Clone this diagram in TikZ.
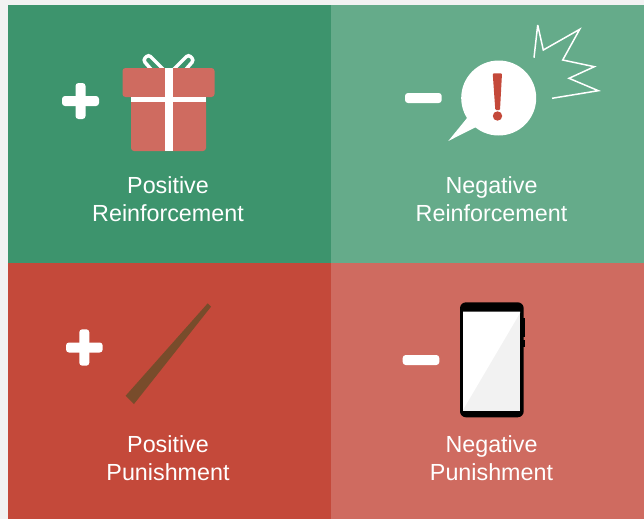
\documentclass[tikz,border=0pt]{standalone}
\usepackage{fontspec}
\setmainfont{Liberation Sans}
\definecolor{pagegrey}{HTML}{F2F2F2}
\definecolor{darkgreen}{HTML}{3D946D}
\definecolor{lightgreen}{HTML}{65AB8A}
\definecolor{darkred}{HTML}{C4493A}
\definecolor{lightred}{HTML}{CF6B60}
\definecolor{stickbrown}{HTML}{784C2B}
\tikzset{
    caption/.style={text=white,align=center,font=\fontsize{23.3}{28}\selectfont},
    signbar/.style={fill=white,rounded corners=3pt},
}
\begin{document}
\begin{tikzpicture}[x=1pt,y=-1pt]
            \useasboundingbox (0,0) rectangle (644,519);
            \fill [pagegrey] (0,0) rectangle (644,519);
            \fill [darkgreen] (8,5) rectangle (331,263);
            \fill [lightgreen] (331,5) rectangle (644,263);
            \fill [darkred] (8,263) rectangle (331,519);
            \fill [lightred] (331,263) rectangle (644,519);
            % gift
            \draw [white,line width=3.5pt,rounded corners=3pt] (168,74) -- (148.5,54.5) -- (143,60) -- (156,75);
            \draw [white,line width=3.5pt,rounded corners=3pt] (169,74) -- (188.5,54.5) -- (194,60) -- (181,75);
            \fill [lightred,rounded corners=3pt] (131,90) rectangle (206,151);
            \fill [lightred,rounded corners=3pt] (122.5,68) rectangle (214.5,97);
            \fill [white] (131,97) rectangle (206,101.5);
            \fill [white] (164.5,68) rectangle (172.5,151);
            \fill [signbar] (62,96) rectangle (99,106);
            \fill [signbar] (75.5,83) rectangle (85.5,119);
            % speech bubble
            \fill [white] (498.7,98) circle (37.5);
            \fill [white] (448.3,141) -- (467.3,117.7) -- (476,127) -- cycle;
            \fill [darkred,rounded corners=1pt] (492.7,73.3) -- (502,73.3) -- (500,110) -- (495.3,110) -- cycle;
            \fill [darkred] (497.5,116) circle (4.7);
            \draw [white,line width=1.5pt,miter limit=4] (534,57.7) -- (537.7,25) -- (543.3,50) -- (579.7,29.3) -- (562.7,60) -- (594.3,66.7) -- (569,78.3) -- (598.3,90.7) -- (552,98.3);
            \fill [signbar] (405,93) rectangle (441.7,103);
            % stick
            \fill [signbar] (66,342.5) rectangle (102.7,352.5);
            \fill [signbar] (79.3,329.3) rectangle (89.3,365.7);
            \fill [stickbrown] (207.7,303.3) -- (211,306.7) -- (134,404) -- (125.7,395.7) -- cycle;
            % phone
            \fill [signbar] (402.7,355) rectangle (439.3,365);
            \fill [black] (523,318) rectangle (525,337);
            \fill [black] (523,340) rectangle (525,347);
            \fill [black,rounded corners=6pt] (460,302.3) rectangle (523.7,417.3);
            \fill [pagegrey] (463,311.7) rectangle (520,410.7);
            \fill [white] (463,311.7) -- (520,311.7) -- (520,313) -- (463.5,409) -- (463,409) -- cycle;
            % labels
            \node [caption] (posreinf) at (168,199.2) {Positive\\Reinforcement};
            \node [caption] (negreinf) at (491.5,199.2) {Negative\\Reinforcement};
            \node [caption] (pospun) at (168,458.2) {Positive\\Punishment};
            \node [caption] (negpun) at (491.5,458.2) {Negative\\Punishment};
        \end{tikzpicture}
\end{document}
